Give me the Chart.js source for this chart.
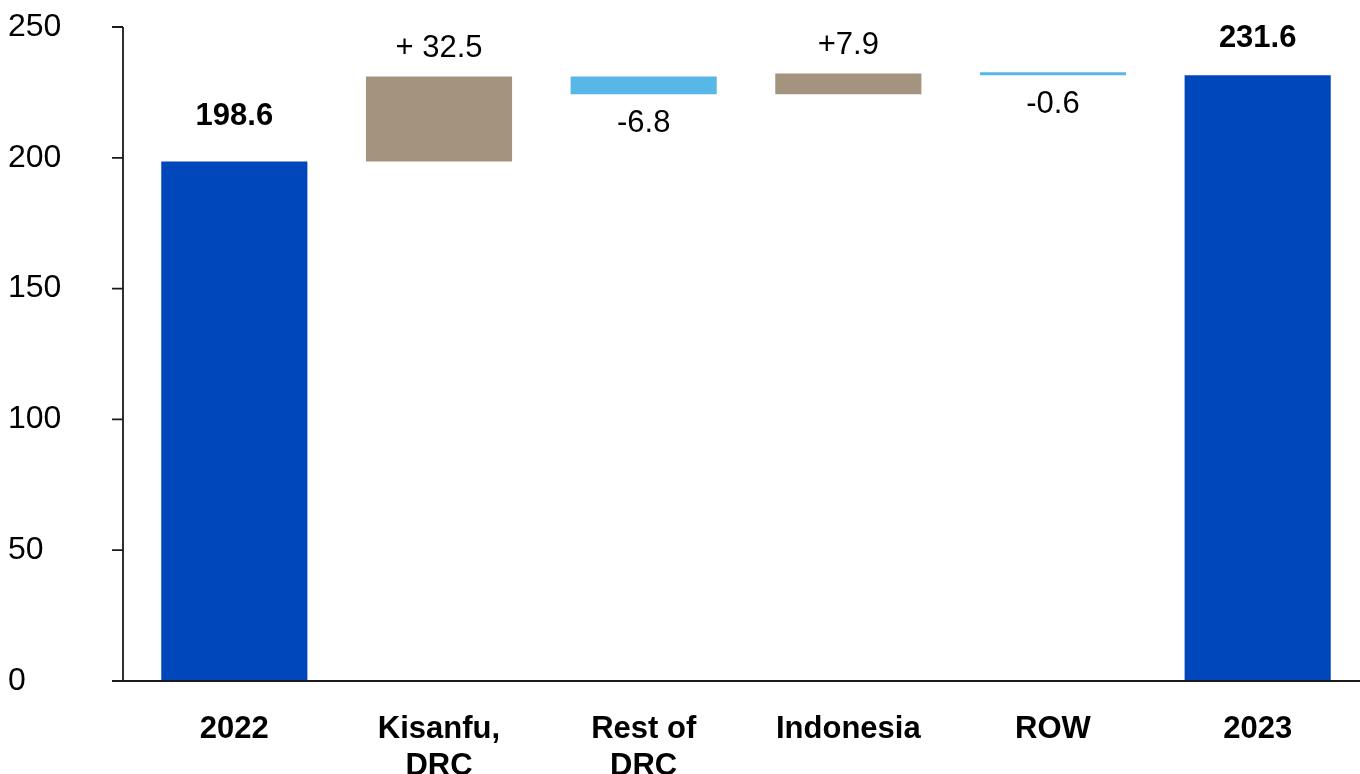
<!DOCTYPE html>
<html><head><meta charset="utf-8">
<script src="https://cdn.jsdelivr.net/npm/chart.js@4.4.1/dist/chart.umd.min.js"></script>
<style>html,body{margin:0;padding:0;background:#fff}#wrap{width:1360px;height:774px;position:relative}</style>
</head><body><div id="wrap"><canvas id="c"></canvas></div>
<script>
const categories = [['2022'], ['Kisanfu,', 'DRC'], ['Rest of', 'DRC'], ['Indonesia'], ['ROW'], ['2023']];
const startValue = 198.6;
const changes = [32.5, -6.8, 7.9, -0.6];
const endValue = 231.6;
const valueLabels = ['198.6', '+ 32.5', '-6.8', '+7.9', '-0.6', '231.6'];
const yTicks = [0, 50, 100, 150, 200, 250];

const COLORS = { total: '#0047BB', up: '#A3937F', down: '#57B8E8' };
const FONT = '"Liberation Sans", Arial, Helvetica, sans-serif';

// floating ranges built from the values
const ranges = [[0, startValue]];
let run = startValue;
changes.forEach(c => {
  const next = Math.round((run + c) * 10) / 10;
  ranges.push([Math.min(run, next), Math.max(run, next)]);
  run = next;
});
ranges.push([0, endValue]);
const kinds = ['total', ...changes.map(c => c >= 0 ? 'up' : 'down'), 'total'];

const axesPlugin = {
  id: 'axesLines',
  afterDraw(chart) {
    const { ctx, scales: { y }, chartArea } = chart;
    const ax = chartArea.left - 9;
    const y0 = y.getPixelForValue(0), yTop = y.getPixelForValue(yTicks[yTicks.length - 1]);
    ctx.save();
    ctx.strokeStyle = '#1a1a1a';
    ctx.lineWidth = 1.8;
    ctx.beginPath();
    ctx.moveTo(ax, yTop); ctx.lineTo(ax, y0);
    yTicks.forEach(v => { const p = y.getPixelForValue(v); ctx.moveTo(ax - 11, p); ctx.lineTo(ax, p); });
    ctx.moveTo(ax - 11, y0); ctx.lineTo(chart.width, y0);
    ctx.stroke();
    ctx.restore();
  }
};

const labelsPlugin = {
  id: 'valueLabels',
  afterDatasetsDraw(chart) {
    const { ctx } = chart;
    const meta = chart.getDatasetMeta(0);
    ctx.save();
    ctx.fillStyle = '#000';
    ctx.textAlign = 'center';
    ctx.textBaseline = 'middle';
    meta.data.forEach((bar, i) => {
      const kind = kinds[i];
      const top = Math.min(bar.y, bar.base), bottom = Math.max(bar.y, bar.base);
      let cy;
      if (kind === 'total') {
        ctx.font = 'bold 31px ' + FONT;
        cy = Math.max(top - 45, 38);
      } else if (kind === 'up') {
        ctx.font = '31px ' + FONT;
        cy = top - 28;
      } else {
        ctx.font = '31px ' + FONT;
        cy = bottom + 29;
      }
      ctx.fillText(valueLabels[i], bar.x, cy);
    });
    ctx.restore();
  }
};

new Chart(document.getElementById('c'), {
  type: 'bar',
  data: {
    labels: categories,
    datasets: [{
      data: ranges,
      backgroundColor: kinds.map(k => COLORS[k]),
      borderWidth: 0,
      borderSkipped: false,
      categoryPercentage: 1,
      barPercentage: 0.714,
      minBarLength: 3
    }]
  },
  options: {
    responsive: true,
    maintainAspectRatio: false,
    animation: false,
    layout: { padding: { left: 8, top: 27, right: 0, bottom: 0 } },
    plugins: { legend: { display: false }, tooltip: { enabled: false } },
    scales: {
      x: {
        grid: { display: false },
        border: { display: false },
        ticks: {
          color: '#000',
          padding: 22,
          maxRotation: 0,
          autoSkip: false,
          font: { family: FONT, size: 31, weight: 'bold', lineHeight: 1.2 }
        },
        afterFit(s) { s.height = 93; }
      },
      y: {
        min: 0, max: 250,
        grid: { display: false },
        border: { display: false },
        ticks: {
          stepSize: 50,
          color: '#000',
          crossAlign: 'far',
          font: { family: FONT, size: 32 }
        },
        afterFit(s) { s.width = 124; }
      }
    }
  },
  plugins: [axesPlugin, labelsPlugin]
});
</script>
</body></html>
